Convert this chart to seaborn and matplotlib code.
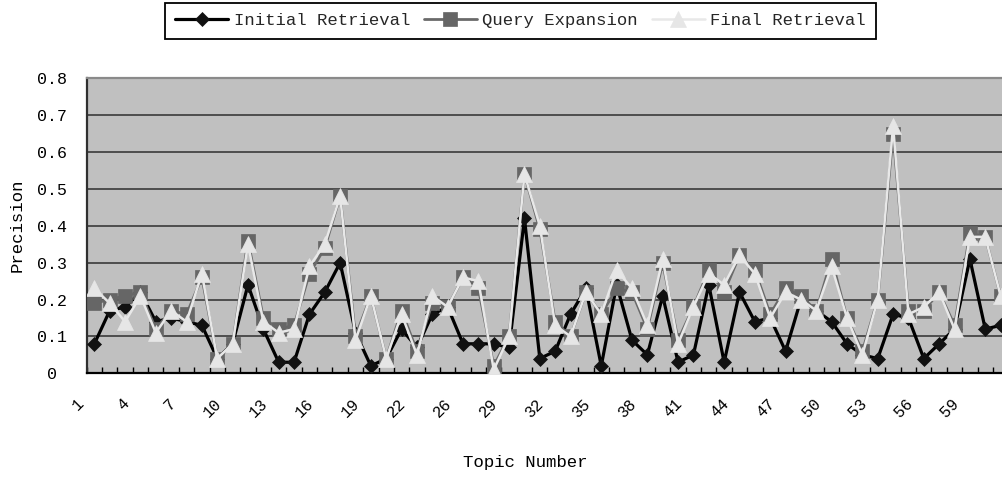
import numpy as np
import pandas as pd
import matplotlib
matplotlib.use("Agg")
import matplotlib.pyplot as plt
import matplotlib.transforms as mtransforms
import seaborn as sns

# Topic numbers (topic 25 is not part of the run)
topics = list(range(1, 25)) + list(range(26, 62))

initial = [0.08, 0.17, 0.18, 0.22, 0.14, 0.15, 0.14, 0.13, 0.04, 0.08,
           0.24, 0.12, 0.03, 0.03, 0.16, 0.22, 0.30, 0.11, 0.02, 0.04,
           0.12, 0.07, 0.16, 0.18, 0.08, 0.08, 0.08, 0.07, 0.42, 0.04,
           0.06, 0.16, 0.23, 0.02, 0.24, 0.09, 0.05, 0.21, 0.03, 0.05,
           0.24, 0.03, 0.22, 0.14, 0.15, 0.06, 0.20, 0.17, 0.14, 0.08,
           0.05, 0.04, 0.16, 0.15, 0.04, 0.08, 0.12, 0.31, 0.12, 0.13]

query = [0.19, 0.20, 0.21, 0.22, 0.12, 0.17, 0.16, 0.26, 0.04, 0.08,
         0.36, 0.15, 0.12, 0.13, 0.27, 0.34, 0.48, 0.10, 0.21, 0.04,
         0.17, 0.06, 0.19, 0.18, 0.26, 0.23, 0.02, 0.10, 0.54, 0.39,
         0.14, 0.10, 0.22, 0.16, 0.23, 0.22, 0.12, 0.30, 0.09, 0.18,
         0.28, 0.22, 0.32, 0.28, 0.16, 0.23, 0.21, 0.17, 0.31, 0.15,
         0.06, 0.20, 0.65, 0.17, 0.17, 0.22, 0.13, 0.38, 0.37, 0.21]

final = [0.23, 0.19, 0.14, 0.21, 0.11, 0.17, 0.14, 0.27, 0.04, 0.08,
         0.35, 0.14, 0.11, 0.12, 0.29, 0.35, 0.48, 0.09, 0.21, 0.04,
         0.16, 0.05, 0.21, 0.18, 0.26, 0.25, 0.01, 0.10, 0.54, 0.40,
         0.13, 0.10, 0.22, 0.16, 0.28, 0.23, 0.13, 0.31, 0.08, 0.18,
         0.27, 0.24, 0.32, 0.27, 0.15, 0.22, 0.20, 0.17, 0.29, 0.15,
         0.05, 0.20, 0.67, 0.16, 0.18, 0.22, 0.12, 0.37, 0.37, 0.21]

series_names = ["Initial Retrieval", "Query Expansion", "Final Retrieval"]
y_ticks = [0.0, 0.1, 0.2, 0.3, 0.4, 0.5, 0.6, 0.7, 0.8]
y_tick_labels = ["0", "0.1", "0.2", "0.3", "0.4", "0.5", "0.6", "0.7", "0.8"]
label_step = 3

sns.set_theme(style="white")
plt.rcParams["font.family"] = ["Liberation Mono", "DejaVu Sans Mono"]

W, H = 1003, 479
fig = plt.figure(figsize=(W / 100, H / 100), dpi=100)
fig.patch.set_facecolor("white")

# plot area in pixels (the right edge runs slightly past the canvas)
left_px, right_px, top_px, bottom_px = 86.7, 1008.3, 78.3, 373.3
ax = fig.add_axes([left_px / W, 1 - bottom_px / H,
                   (right_px - left_px) / W, (bottom_px - top_px) / H])
ax.set_facecolor("#c0c0c0")

pos = np.arange(len(topics))
df = pd.DataFrame({"pos": pos, "topic": topics,
                   series_names[0]: initial,
                   series_names[1]: query,
                   series_names[2]: final})

styles = {
    series_names[0]: dict(color="#000000", marker="D", markersize=7.4,
                          linewidth=2.3, markerfacecolor="#111111",
                          markeredgecolor="#111111", markeredgewidth=0.5),
    series_names[1]: dict(color="#6a6a6a", marker="s", markersize=10.2,
                          linewidth=2.0, markerfacecolor="#666666",
                          markeredgecolor="#666666", markeredgewidth=0.5),
    series_names[2]: dict(color="#e8e8e8", marker="^", markersize=11.8,
                          linewidth=1.8, markerfacecolor="#e6e6e6",
                          markeredgecolor="#e6e6e6", markeredgewidth=0.5),
}

for i, name in enumerate(series_names):
    sns.lineplot(data=df, x="pos", y=name, ax=ax, label=name, sort=False,
                 zorder=3 + i, **styles[name])

ax.set_xlim(-0.5, len(topics) - 0.5)
ax.set_ylim(0, 0.8)

# y axis
ax.set_yticks(y_ticks)
ax.set_yticklabels(y_tick_labels)
ax.tick_params(axis="y", length=0, pad=25, labelsize=12, labelcolor="black")
for lab in ax.get_yticklabels():
    lab.set_horizontalalignment("center")
ax.yaxis.grid(True, color="#2e2e2e", linewidth=1.1)
ax.xaxis.grid(False)
ax.set_axisbelow(True)

# x axis: labelled every third topic, tick marks between categories
major = pos[::label_step]
ax.set_xticks(major)
ax.set_xticklabels([str(topics[k]) for k in major], rotation=45,
                   ha="right", va="top")
ax.set_xticks(np.arange(len(topics) + 1) - 0.5, minor=True)
ax.tick_params(axis="x", which="major", length=0, pad=16, labelsize=11.5,
               labelcolor="black")
ax.tick_params(axis="x", which="minor", direction="in", length=4,
               width=1.0, color="black", bottom=True)
shift = mtransforms.ScaledTranslation(-8 / 100, 0, fig.dpi_scale_trans)
for lab in ax.get_xticklabels():
    lab.set_transform(lab.get_transform() + shift)

# axis titles
ax.set_xlabel("Topic Number", fontsize=12.5, color="black")
ax.xaxis.label.set_verticalalignment("center")
ax.xaxis.set_label_coords((525 - left_px) / (right_px - left_px),
                          (bottom_px - 463) / (bottom_px - top_px))
ax.set_ylabel("Precision", fontsize=12.5, color="black")
ax.yaxis.label.set_verticalalignment("center")
ax.yaxis.set_label_coords((17 - left_px) / (right_px - left_px), 0.5)

# frame
for side in ["left", "bottom", "top", "right"]:
    ax.spines[side].set_visible(True)
ax.spines["left"].set_color("#303030")
ax.spines["left"].set_linewidth(1.6)
ax.spines["bottom"].set_color("#000000")
ax.spines["bottom"].set_linewidth(1.6)
ax.spines["top"].set_color("#8a8a8a")
ax.spines["top"].set_linewidth(1.6)
ax.spines["right"].set_visible(False)

# legend above the plot
handles, labels = ax.get_legend_handles_labels()
ax.get_legend().remove()
leg = fig.legend(handles, labels, loc="upper center",
                 bbox_to_anchor=(520.5 / W, 1 - 3 / H), ncol=3,
                 frameon=True, fancybox=False, shadow=False,
                 edgecolor="black", framealpha=1, fontsize=12.4,
                 handlelength=3.1, handletextpad=0.3, columnspacing=0.8,
                 borderpad=0.6, borderaxespad=0)
leg.get_frame().set_linewidth(1.3)

fig.savefig("out.png", dpi=100, facecolor="white")
